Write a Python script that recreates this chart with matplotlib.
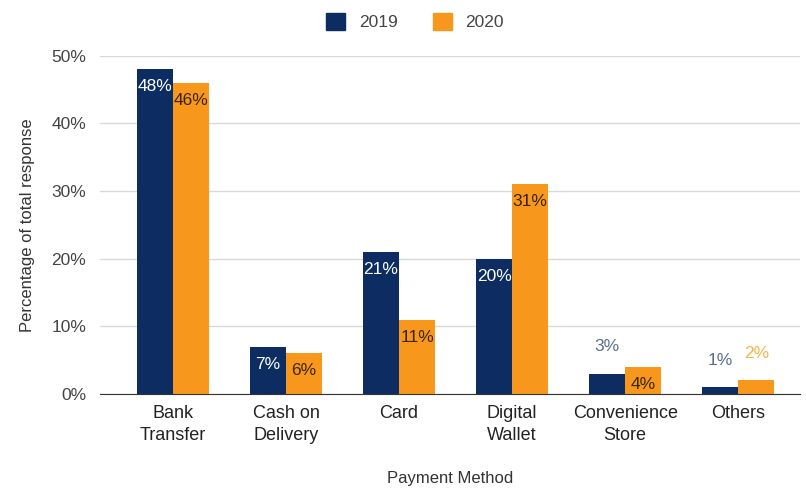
import numpy as np
import matplotlib
matplotlib.use('Agg')
import matplotlib.pyplot as plt
from matplotlib.patches import Patch

plt.rcParams['font.family'] = ['Liberation Sans', 'DejaVu Sans']

# Datos del gráfico
metodos = ['Bank\nTransfer', 'Cash on\nDelivery', 'Card', 'Digital\nWallet', 'Convenience\nStore', 'Others']
valores_2019 = [48, 7, 21, 20, 3, 1]
valores_2020 = [46, 6, 11, 31, 4, 2]
anios = ['2019', '2020']

azul = '#0d2d62'
naranja = '#f7981d'

fig = plt.figure(figsize=(8.06, 4.90), dpi=100)
ax = fig.add_axes([0.124, 0.196, 0.869, 0.69])

x = np.arange(len(metodos))
w = 0.32
b1 = ax.bar(x - w / 2, valores_2019, w, color=azul, zorder=3)
b2 = ax.bar(x + w / 2, valores_2020, w, color=naranja, zorder=3)

# Etiquetas de las barras: dentro si caben, encima si no
for barras, vals, col_in, col_out in [(b1, valores_2019, 'white', '#5a6e8c'),
                                      (b2, valores_2020, '#3a2500', '#f6b34a')]:
    for bar, v in zip(barras, vals):
        cx = bar.get_x() + bar.get_width() / 2
        if v >= 4:
            ax.text(cx, v - 2.6, f'{v}%', ha='center', va='center', color=col_in, fontsize=12.5, zorder=4)
        else:
            ax.text(cx, v + 4.0, f'{v}%', ha='center', va='center', color=col_out, fontsize=12.5, zorder=4)

ax.set_ylim(0, 50)
ax.set_xlim(-0.646, 5.55)
ax.set_yticks(range(0, 51, 10))
ax.set_yticklabels([f'{t}%' for t in range(0, 51, 10)])
ax.set_xticks(x)
ax.set_xticklabels(metodos, fontsize=13, color='#222222', linespacing=1.35)
ax.tick_params(axis='y', length=0, pad=10, labelsize=12.5, labelcolor='#444444')
ax.tick_params(axis='x', length=0, pad=8)
ax.grid(axis='y', color='#d9d9d9', linewidth=1, zorder=0)
for s in ['top', 'right', 'left']:
    ax.spines[s].set_visible(False)
ax.spines['bottom'].set_color('#333333')
ax.spines['bottom'].set_zorder(5)

ax.set_xlabel('Payment Method', fontsize=12, color='#333333', labelpad=20)
ax.set_ylabel('Percentage of total response', fontsize=12, color='#333333', labelpad=12)

handles = [Patch(color=azul), Patch(color=naranja)]
fig.legend(handles, anios, loc='upper center', bbox_to_anchor=(0.515, 1.005), ncol=2, frameon=False,
           fontsize=12.5, handlelength=1.1, handleheight=1.1, columnspacing=2.0, handletextpad=0.8,
           labelcolor='#444444')

fig.savefig('out.png', dpi=100)
